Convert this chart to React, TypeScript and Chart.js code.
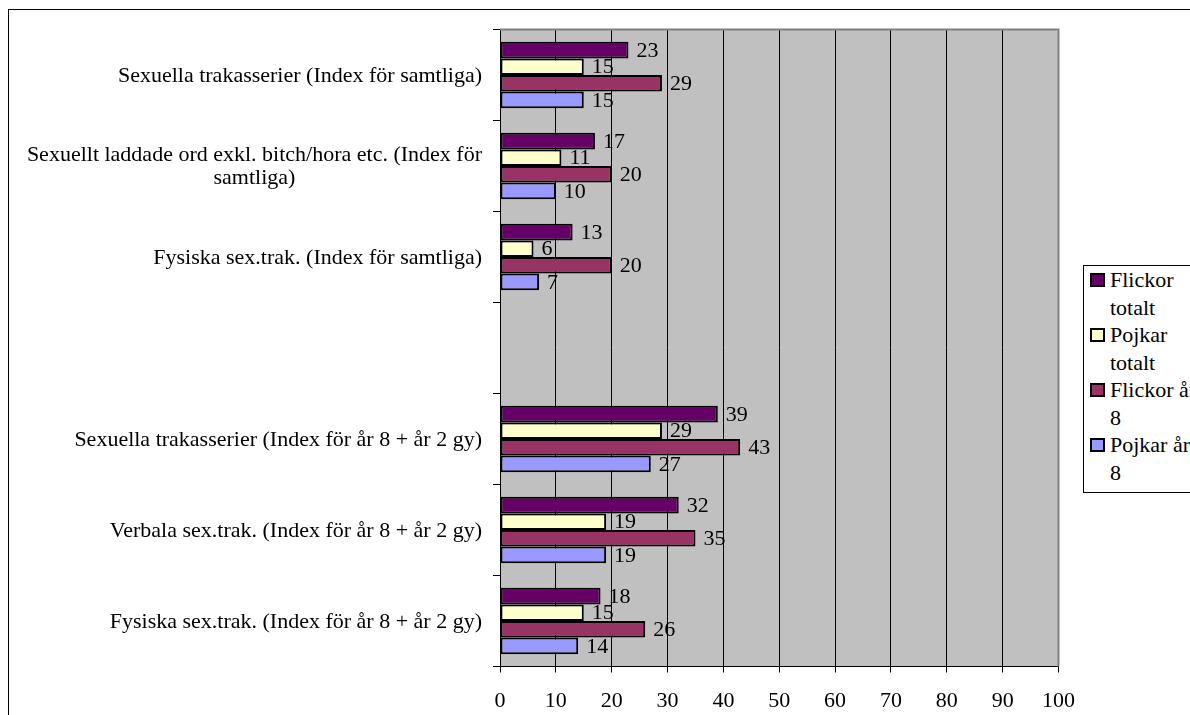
import React, { useEffect, useRef } from "react";
import { Chart, registerables } from "chart.js";

Chart.register(...registerables);

const categories: string[] = [
  "Sexuella trakasserier (Index för samtliga)",
  "Sexuellt laddade ord exkl. bitch/hora etc. (Index för samtliga)",
  "Fysiska sex.trak. (Index för samtliga)",
  "",
  "Sexuella trakasserier (Index för år 8 + år 2 gy)",
  "Verbala sex.trak. (Index för år 8 + år 2 gy)",
  "Fysiska sex.trak. (Index för år 8 + år 2 gy)",
];

const seriesNames = ["Flickor totalt", "Pojkar totalt", "Flickor år 8", "Pojkar år 8"];
const flickorTotalt = [23, 17, 13, null, 39, 32, 18];
const pojkarTotalt = [15, 11, 6, null, 29, 19, 15];
const flickorAr8 = [29, 20, 20, null, 43, 35, 26];
const pojkarAr8 = [15, 10, 7, null, 27, 19, 14];
const seriesColors = ["#660066", "#FFFFCC", "#993366", "#9999FF"];
const xMin = 0;
const xMax = 100;
const xStep = 10;

const FONT_FAMILY = '"Liberation Serif", "Times New Roman", serif';
const FONT_SIZE = 22;
const FONT = `${FONT_SIZE}px ${FONT_FAMILY}`;

function wrapText(ctx: CanvasRenderingContext2D, text: string, maxW: number): string[] {
  if (!text) return [];
  const words = text.split(" ");
  const lines: string[] = [];
  let cur = "";
  for (const w of words) {
    const test = cur ? cur + " " + w : w;
    if (ctx.measureText(test).width > maxW && cur) {
      lines.push(cur);
      cur = w;
    } else {
      cur = test;
    }
  }
  if (cur) lines.push(cur);
  return lines;
}

const bgPlugin = {
  id: "bgPlugin",
  beforeDraw(chart: any) {
    const { ctx, chartArea: a } = chart;
    ctx.save();
    ctx.fillStyle = "#C0C0C0";
    ctx.fillRect(a.left, a.top, a.right - a.left, a.bottom - a.top);
    ctx.restore();
  },
  beforeDatasetsDraw(chart: any) {
    const { ctx, chartArea: a } = chart;
    ctx.save();
    ctx.strokeStyle = "#808080";
    ctx.lineWidth = 2;
    ctx.beginPath();
    ctx.moveTo(a.left, a.top);
    ctx.lineTo(a.right, a.top);
    ctx.lineTo(a.right, a.bottom);
    ctx.stroke();
    ctx.restore();
  },
};

const valueLabelPlugin = {
  id: "valueLabelPlugin",
  afterDatasetsDraw(chart: any) {
    const { ctx } = chart;
    ctx.save();
    ctx.font = FONT;
    ctx.fillStyle = "#000";
    ctx.textAlign = "left";
    ctx.textBaseline = "middle";
    chart.data.datasets.forEach((ds: any, di: number) => {
      const meta = chart.getDatasetMeta(di);
      meta.data.forEach((el: any, i: number) => {
        const v = ds.data[i];
        if (v === null || v === undefined) return;
        ctx.fillText(String(v), el.x + 8, el.y + 1);
      });
    });
    ctx.restore();
  },
};

const yLabelPlugin = {
  id: "yLabelPlugin",
  afterDraw(chart: any) {
    const { ctx } = chart;
    const yScale = chart.scales.y;
    const rightEdge = 482;
    const lh = 23;
    ctx.save();
    ctx.font = FONT;
    ctx.fillStyle = "#000";
    ctx.textAlign = "center";
    ctx.textBaseline = "middle";
    categories.forEach((label, i) => {
      const lines = wrapText(ctx, label, 470);
      if (!lines.length) return;
      const maxW = Math.max(...lines.map((l) => ctx.measureText(l).width));
      const cx = rightEdge - maxW / 2;
      const cy = yScale.getPixelForValue(i);
      lines.forEach((l, k) => {
        ctx.fillText(l, cx, cy + (k - (lines.length - 1) / 2) * lh + 1);
      });
    });
    ctx.restore();
  },
};

export default function App() {
  const canvasRef = useRef<HTMLCanvasElement | null>(null);

  useEffect(() => {
    const canvas = canvasRef.current;
    if (!canvas) return;
    const seriesData = [flickorTotalt, pojkarTotalt, flickorAr8, pojkarAr8];
    const chart = new Chart(canvas, {
      type: "bar",
      data: {
        labels: categories,
        datasets: seriesNames.map((name, i) => ({
          label: name,
          data: seriesData[i],
          backgroundColor: seriesColors[i],
          borderColor: "#000000",
          borderWidth: 2,
          borderSkipped: false,
          categoryPercentage: 0.73,
          barPercentage: 1,
        })),
      },
      options: {
        indexAxis: "y",
        responsive: false,
        animation: false,
        devicePixelRatio: 1,
        layout: { padding: { top: 29.5, right: 131.5, left: 0, bottom: 0 } },
        plugins: {
          legend: { display: false },
          tooltip: { enabled: false },
        },
        scales: {
          x: {
            type: "linear",
            min: xMin,
            max: xMax,
            afterFit: (scale: any) => {
              scale.height = 48.5;
            },
            ticks: {
              stepSize: xStep,
              color: "#000",
              font: { family: FONT_FAMILY, size: FONT_SIZE },
              padding: 16,
            },
            grid: {
              color: "#000",
              lineWidth: 1,
              tickLength: 6,
              drawTicks: true,
            },
            border: { display: true, color: "#000", width: 1 },
          },
          y: {
            type: "category",
            afterFit: (scale: any) => {
              scale.width = 500;
            },
            ticks: {
              callback: () => "",
              font: { family: FONT_FAMILY, size: FONT_SIZE },
            },
            grid: {
              offset: true,
              drawOnChartArea: false,
              drawTicks: true,
              tickLength: 7,
              color: "#000",
              lineWidth: 1,
            },
            border: { display: true, color: "#000", width: 1 },
          },
        },
      } as any,
      plugins: [bgPlugin, valueLabelPlugin, yLabelPlugin],
    });
    return () => chart.destroy();
  }, []);

  const legendItem = (name: string, color: string) => (
    <div key={name} style={{ display: "flex", alignItems: "flex-start" }}>
      <div
        style={{
          width: 11,
          height: 10,
          border: "2px solid #000",
          background: color,
          marginTop: 6.75,
          flex: "0 0 auto",
        }}
      />
      <div style={{ marginLeft: 5, width: 88, lineHeight: "27.5px", flex: "0 0 auto" }}>{name}</div>
    </div>
  );

  return (
    <div
      style={{
        position: "fixed",
        left: 0,
        top: 0,
        width: 1190,
        height: 715,
        overflow: "hidden",
        background: "#fff",
      }}
    >
      <div
        style={{
          position: "absolute",
          left: 8,
          top: 9,
          width: 1300,
          height: 800,
          border: "1px solid #000",
          boxSizing: "border-box",
        }}
      />
      <canvas
        ref={canvasRef}
        width={1190}
        height={715}
        style={{ position: "absolute", left: 0, top: 0, width: 1190, height: 715 }}
      />
      <div
        style={{
          position: "absolute",
          left: 1083,
          top: 265,
          width: 200,
          height: 228,
          border: "1px solid #000",
          boxSizing: "border-box",
          background: "#fff",
          paddingLeft: 6,
          fontFamily: FONT_FAMILY,
          fontSize: FONT_SIZE,
          color: "#000",
          whiteSpace: "normal",
        }}
      >
        {seriesNames.map((n, i) => legendItem(n, seriesColors[i]))}
      </div>
    </div>
  );
}
